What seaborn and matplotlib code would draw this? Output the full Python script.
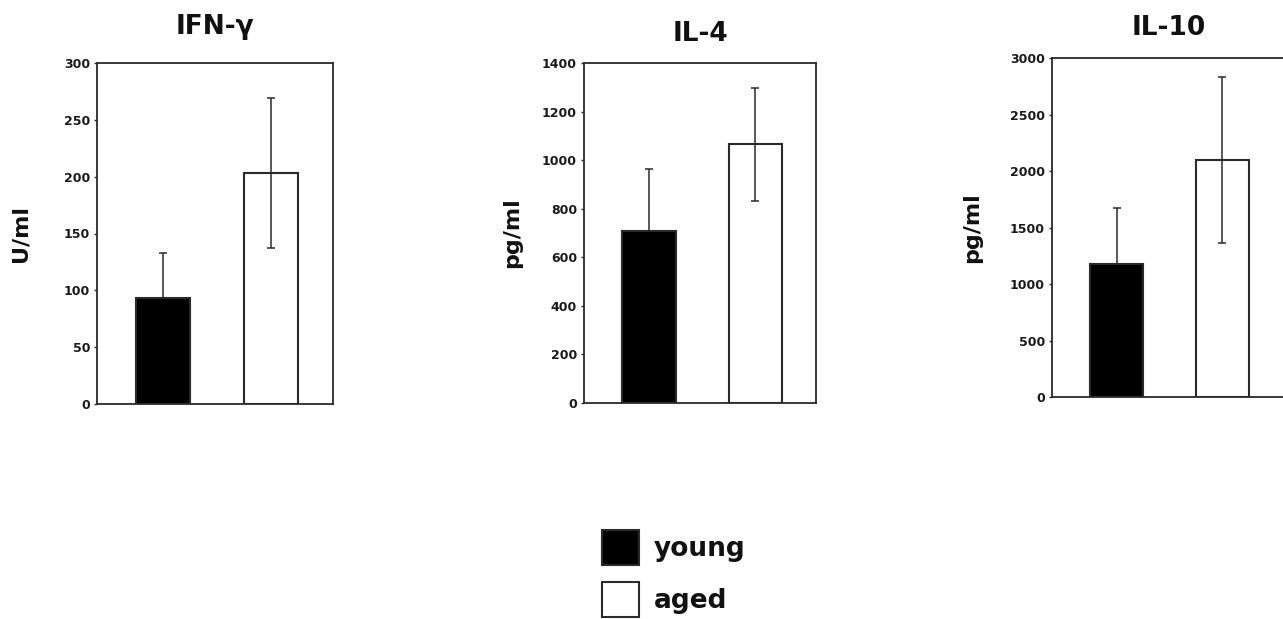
import matplotlib
matplotlib.use("Agg")
import matplotlib.pyplot as plt
import seaborn as sns
import pandas as pd
from matplotlib.patches import Patch

# ---- data ----
cytokines = ["IFN-γ", "IL-4", "IL-10"]
units = ["U/ml", "pg/ml", "pg/ml"]
groups = ["young", "aged"]
young_mean = [93, 708, 1180]
young_err = [40, 257, 496]
aged_mean = [203, 1065, 2100]
aged_err = [66, 234, 736]
y_max = [300, 1400, 3000]
y_step = [50, 200, 500]

sns.set_theme(style="white")
plt.rcParams["font.family"] = ["DejaVu Sans"]

W, H = 1283, 619
fig = plt.figure(figsize=(W / 100, H / 100), dpi=100)

# axes boxes in pixel coords: left, right, top, bottom
boxes = [(97, 333, 63, 404), (584, 816, 63, 403), (1052, 1286, 58, 397)]
title_pads = [21, 15.5, 16.5]
label_x = [-0.28, -0.265, -0.30]

edge = "#2a2a2a"
palette = {"young": "black", "aged": "white"}

for i, (l, r, t, b) in enumerate(boxes):
    ax = fig.add_axes([l / W, 1 - b / H, (r - l) / W, (b - t) / H])
    df = pd.DataFrame({"group": groups, "value": [young_mean[i], aged_mean[i]]})
    sns.barplot(data=df, x="group", y="value", hue="group", palette=palette,
                order=groups, hue_order=groups, width=0.5, errorbar=None,
                edgecolor=edge, linewidth=1.5, legend=False, ax=ax)
    # young: only upper error visible; aged: symmetric
    lower = [0, aged_err[i]]
    upper = [young_err[i], aged_err[i]]
    ax.errorbar([0, 1], [young_mean[i], aged_mean[i]],
                yerr=[lower, upper], fmt="none",
                ecolor=edge, elinewidth=1.1, capsize=2.9, capthick=1.1, zorder=5)
    ax.set_xlim(-0.61, 1.57 if i < 2 else 1.60)
    ax.set_ylim(0, y_max[i])
    ax.set_yticks(range(0, y_max[i] + 1, y_step[i]))
    ax.tick_params(axis="y", left=True, length=2.5, width=1, color=edge,
                   labelsize=9, labelcolor="#1a1a1a", pad=2.5)
    for lab in ax.get_yticklabels():
        lab.set_fontweight("bold")
    ax.tick_params(axis="x", bottom=False, labelbottom=False)
    ax.set_xlabel("")
    ax.set_ylabel(units[i], fontsize=16, fontweight="bold", color="#111")
    ax.yaxis.set_label_coords(label_x[i], 0.5)
    ax.set_title(cytokines[i], fontsize=19, fontweight="bold", pad=title_pads[i],
                 color="#111")
    for s in ax.spines.values():
        s.set_visible(True)
        s.set_color(edge)
        s.set_linewidth(1.3)

handles = [Patch(facecolor=palette[g], edgecolor=edge, linewidth=1.5) for g in groups]
fig.legend(handles, groups, loc="upper left",
           bbox_to_anchor=(602 / W, 1 - 530 / H), bbox_transform=fig.transFigure,
           frameon=False, borderpad=0, borderaxespad=0,
           prop={"size": 19, "weight": "bold"}, labelcolor="#111",
           handlelength=1.4, handleheight=1.66, handletextpad=0.55,
           labelspacing=0.66)

fig.savefig("out.png", dpi=100)
